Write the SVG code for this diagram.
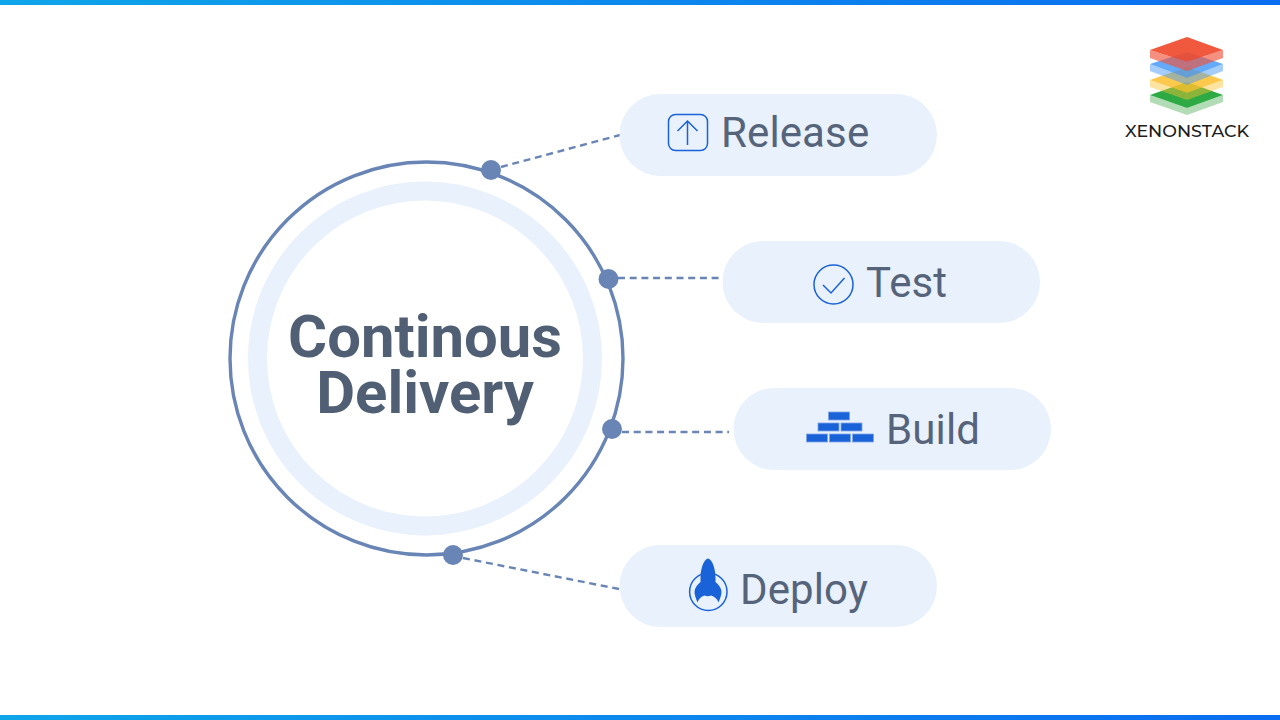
<svg xmlns="http://www.w3.org/2000/svg" width="1280" height="720" viewBox="0 0 1280 720">
<style>
.pill{fill:#e9f1fc}
.lbl{font-family:Roboto,"Liberation Sans",sans-serif;font-size:42px;fill:#55647a;letter-spacing:.12px}
.title{font-family:Roboto,"Liberation Sans",sans-serif;font-size:59.800px;font-weight:700;fill:#505f74;text-anchor:middle}
.dash{stroke:#6885b5;stroke-width:2.400;stroke-dasharray:7 4.700;fill:none}
.dot{fill:#6885b5}
.ico{fill:none;stroke:#1a62d8;stroke-width:1.500}
.brick{fill:#1a62d8;stroke:#7fa6e8;stroke-width:.8}
</style>
<defs>
<linearGradient id="bar" x1="0" x2="1" y1="0" y2="0"><stop offset="0" stop-color="#0ea5e9"/><stop offset="1" stop-color="#0a6cf0"/></linearGradient>
</defs>
<rect width="1280" height="720" fill="#fff"/>
<rect id="bar-top" width="1280" height="5" fill="url(#bar)"/>
<rect id="bar-bottom" y="715" width="1280" height="5" fill="url(#bar)"/>
<g id="connectors">
<line class="dash" x1="501" y1="167" x2="620" y2="135"/>
<line class="dash" x1="618" y1="278" x2="722" y2="278"/>
<line class="dash" x1="622" y1="432" x2="729" y2="432"/>
<line class="dash" x1="463" y1="558" x2="619" y2="589"/>
</g>
<g id="hub">
<circle cx="426.500" cy="358.500" r="196.500" fill="none" stroke="#6885b5" stroke-width="3.400"/>
<circle cx="425" cy="358.500" r="167.500" fill="none" stroke="#e9f1fc" stroke-width="19"/>
<text class="title" x="425" y="357">Continous</text>
<text class="title" x="425" y="413">Delivery</text>
<circle class="dot" cx="491" cy="170" r="10"/>
<circle class="dot" cx="608.500" cy="279" r="10"/>
<circle class="dot" cx="612" cy="429" r="10"/>
<circle class="dot" cx="453" cy="555" r="10"/>
</g>
<g id="release">
<rect class="pill" x="619.500" y="94" width="317.500" height="82" rx="41"/>
<rect class="ico" x="668.500" y="114.500" width="39" height="36" rx="7"/>
<path class="ico" d="M687.500 145V121M677.500 131L687.500 121L697.500 131"/>
<text class="lbl" x="721" y="147">Release</text>
</g>
<g id="test">
<rect class="pill" x="722.500" y="241" width="317.500" height="82" rx="41"/>
<circle class="ico" cx="833.500" cy="284.500" r="19.500"/>
<path class="ico" d="M823 285L831 293L844.500 278" stroke-width="2"/>
<text class="lbl" x="866" y="297">Test</text>
</g>
<g id="build">
<rect class="pill" x="733.500" y="388" width="317.500" height="82" rx="41"/>
<rect class="brick" x="828.500" y="412" width="21" height="8"/>
<rect class="brick" x="818" y="423" width="21" height="8"/>
<rect class="brick" x="841" y="423" width="21" height="8"/>
<rect class="brick" x="806.500" y="434" width="21" height="8"/>
<rect class="brick" x="829.500" y="434" width="21" height="8"/>
<rect class="brick" x="852.500" y="434" width="21" height="8"/>
<text class="lbl" x="886" y="444">Build</text>
</g>
<g id="deploy">
<rect class="pill" x="619.500" y="545" width="317.500" height="82" rx="41"/>
<circle class="ico" cx="708.300" cy="591.700" r="18.700"/>
<path d="M708 558.500C712.500 559.500 715.500 569 715.500 578L715.500 582C719 585 721.500 588 721.500 592C721.500 595 720 599 718.500 602.500C717 598.500 714.500 596.500 711 595.500C709 596.500 706.500 596.500 704.500 595.500C701 596.500 699 598.500 697.500 602.500C696 599 694.500 595 694.500 592C694.500 588 697 585 700.500 582L700.500 578C700.500 569 703.500 559.500 708 558.500Z" fill="#1a62d8"/>
<text class="lbl" x="740" y="604">Deploy</text>
</g>
<g id="logo">
<path d="M1150 95V102L1187 115L1223 102V95L1187 108Z" fill="#3fa845" fill-opacity=".4"/>
<path d="M1150 95L1187 82L1223 95L1187 108Z" fill="#2eaa45"/>
<path d="M1150 80V87L1187 100L1223 87V80L1187 93Z" fill="#fbc02d" fill-opacity=".45"/>
<path d="M1150 80L1187 67L1223 80L1187 93Z" fill="#fbc02d" fill-opacity=".85"/>
<path d="M1150 64V71L1187 85L1223 71V64L1187 78Z" fill="#4a9bf5" fill-opacity=".5"/>
<path d="M1150 64L1187 52L1223 64L1187 78Z" fill="#3f95f7" fill-opacity=".8"/>
<path d="M1150 50V58L1187 71L1223 58V50L1187 62Z" fill="#f0533a" fill-opacity=".65"/>
<path d="M1150 50L1187 37L1223 50L1187 62Z" fill="#ef4b2e" fill-opacity=".92"/>
<text x="1125" y="137" font-family="Montserrat,'Open Sans','Liberation Sans',sans-serif" font-size="16.500" font-weight="500" fill="#1c1c1c" textLength="124" lengthAdjust="spacingAndGlyphs">XENONSTACK</text>
</g>
</svg>
